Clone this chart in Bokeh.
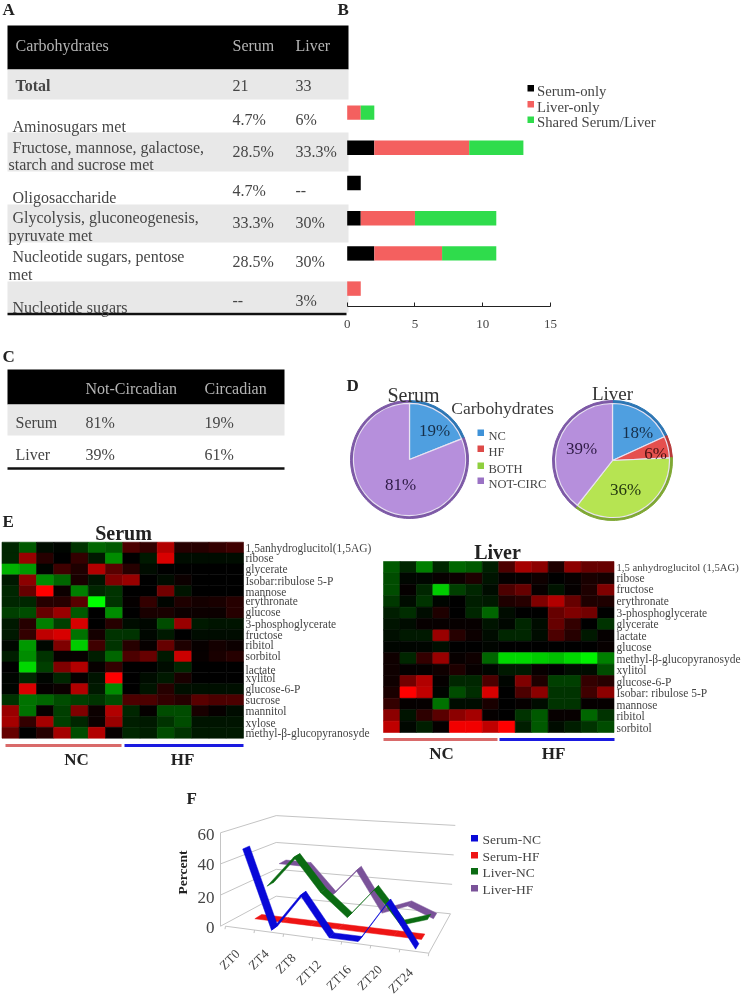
import numpy as np
from bokeh.plotting import figure
from bokeh.models import Range1d, ColumnDataSource, LinearColorMapper, LinearAxis, FixedTicker
from bokeh.transform import transform
from bokeh.core.properties import value
from bokeh.embed import file_html
from bokeh.resources import INLINE

# ---------------- data ----------------
bar_series = ["Serum-only", "Liver-only", "Shared Serum/Liver"]
serum_only = [0, 2, 1, 1, 2, 0]
liver_only = [1, 7, 0, 4, 5, 1]
shared = [1, 4, 0, 6, 4, 0]

pie_labels = ["NC", "HF", "BOTH", "NOT-CIRC"]
pie_serum = [19, 0, 0, 81]
pie_liver = [18, 6, 36, 39]

serum_metabolites = ["1,5anhydroglucitol(1,5AG)", "ribose", "glycerate", "Isobar:ribulose 5-P", "mannose",
                     "erythronate", "glucose", "3-phosphoglycerate", "fructose", "ribitol", "sorbitol", "lactate",
                     "xylitol", "glucose-6-P", "sucrose", "mannitol", "xylose", "methyl-β-glucopyranosyde"]
serum_heat = [
    [-.15, -.35, -.05, -.02, -.2, -.4, -.35, .3, .2, .7, .15, .15, .2, .25],
    [-.15, .6, .15, 0, .2, -.1, -.55, 0, -.1, .85, -.05, -.05, -.05, -.05],
    [-.7, -.6, -.02, .25, .12, .7, .35, .15, -.05, 0, 0, 0, 0, 0],
    [-.1, .55, -.55, -.4, .1, -.08, .5, .6, 0, -.05, .05, 0, 0, 0],
    [-.15, .4, 1, .05, -.5, -.15, -.2, 0, 0, .45, -.08, 0, 0, 0],
    [-.15, -.15, .15, .15, .35, -1, -.2, .02, .2, -.02, .12, .08, .1, .15],
    [-.25, -.3, .4, .6, -.35, 0, -.55, 0, .1, .1, .05, .05, .05, .15],
    [-.1, .15, -.5, -.25, .85, 0, .15, -.05, -.03, -.3, .6, -.1, -.08, -.08],
    [-.1, .2, .75, .85, -.45, .08, -.2, -.2, -.03, -.1, 0, -.05, -.05, -.05],
    [-.03, -.6, -.03, .5, -.8, .25, -.2, .15, .03, .4, .12, .03, .08, .05],
    [-.12, -.55, -.2, .03, .03, -.12, -.4, .3, .4, -.1, .8, .03, .1, .15],
    [0, -.85, -.25, .5, .7, .03, .2, 0, 0, -.05, -.15, 0, 0, 0],
    [-.02, -.15, -.02, -.15, .03, -.08, 1, 0, -.05, -.1, .1, 0, 0, 0],
    [-.02, .85, .02, .05, .7, -.1, -.55, 0, -.08, .15, -.06, -.06, -.06, -.06],
    [-.2, -.45, -.4, -.3, -.25, -.2, -.3, .3, .3, .2, .15, .35, .3, .3],
    [.6, -.45, .03, -.25, .5, .05, .7, -.15, .02, -.3, -.3, .1, .03, -.05],
    [.65, .2, .65, -.25, -.15, .05, .6, -.12, -.1, -.2, -.3, -.08, -.08, -.08],
    [.4, 0, .15, .65, -.3, .7, .03, -.15, -.12, -.3, -.2, -.1, -.1, -.1],
]
liver_metabolites = ["1,5 anhydroglucitol (1,5AG)", "ribose", "fructose", "erythronate", "3-phosphoglycerate",
                     "glycerate", "lactate", "glucose", "methyl-β-glucopyranosyde", "xylitol", "glucose-6-P",
                     "Isobar: ribulose 5-P", "mannose", "ribitol", "sorbitol"]
liver_heat = [
    [-.35, -.15, -.5, -.15, -.4, -.35, -.12, .3, .65, .55, .12, .55, .4, .4],
    [-.3, -.03, -.03, .03, .05, .12, -.08, .02, .02, .06, 0, .03, .1, .08],
    [-.3, .02, -.15, -.8, -.25, -.15, -.05, .3, .4, .03, -.08, .02, .12, .5],
    [-.22, -.05, -.2, -.02, 0, -.12, -.1, .12, .15, .5, .7, .4, .12, .12],
    [-.12, -.18, -.05, .12, 0, -.15, -.4, -.05, 0, 0, .4, .5, .45, 0],
    [-.08, -.05, .03, .03, .03, .03, -.08, -.03, -.15, -.05, .4, .2, 0, -.2],
    [-.06, -.1, -.1, .6, .15, .05, -.05, -.15, -.15, -.05, .3, .15, -.1, .02],
    [-.02, -.02, -.02, -.06, 0, 0, -.02, 0, 0, 0, 0, 0, 0, .03],
    [.06, -.15, .2, .6, .03, .06, -.4, -.85, -.85, -.8, -.75, -.85, -.95, -.5],
    [.06, .02, .02, .06, .12, .03, -.02, -.1, -.1, .03, 0, -.05, -.05, -.3],
    [.06, .45, .7, .02, -.15, -.15, .3, -.02, .5, .12, -.25, -.25, .2, .15],
    [.1, 1, .75, -.02, -.3, -.18, .85, 0, .3, .55, -.2, -.2, .25, .55],
    [.2, .02, .02, -.45, -.05, -.05, .1, 0, .02, -.05, -.2, -.2, .02, .02],
    [.55, -.08, .18, .35, .55, .65, .02, 0, -.2, -.35, .03, .03, -.4, -.2],
    [.75, -.03, -.12, .02, .95, .95, .75, 1, -.12, -.35, -.05, -.12, -.2, -.3],
]

zt_labels = ["ZT0", "ZT4", "ZT8", "ZT12", "ZT16", "ZT20", "ZT24"]
serum_nc = [50, 0, 25, 0, 0, 27, 0]
serum_hf = [0, 0, 0, 0, 0, 0, 0]
liver_nc = [17, 39, 17, 2, 23, 1, 7]
liver_hf = [28, 28, 9, 29, 1, 8, 1]

# ---------------- styling ----------------
FONT = value("Liberation Serif")
INK = "#454545"
RED_BAR, GREEN_BAR = "#f4605f", "#2fdc4c"
W, H = 745, 999

c = figure(output_backend="svg", toolbar_location=None, width=W, height=H, min_border=0,
           x_range=Range1d(0, W), y_range=Range1d(H, 0), outline_line_color=None,
           styles={"filter": "blur(0.75px)"})
c.axis.visible = False
c.grid.visible = False


def panel(name, d0, d1, px0, px1, py0, py1, e0, e1):
    """Add ranges so that data d0..d1 falls on page x px0..px1 and e0..e1 on page y py0..py1."""
    sx = (px1 - px0) / (d1 - d0)
    sy = (py1 - py0) / (e1 - e0)
    c.extra_x_ranges[name] = Range1d(d0 - px0 / sx, d0 + (W - px0) / sx)
    c.extra_y_ranges[name] = Range1d(e0 + (H - py0) / sy, e0 - py0 / sy)
    return dict(x_range_name=name, y_range_name=name)


def t(x, y, s, size=16, color=INK, bold=False, align="left", angle=0):
    c.text([x], [y], text=[s], text_font=FONT, text_font_size=f"{size}px", text_color=color,
           text_font_style="bold" if bold else "normal", text_align=align, text_baseline="middle", angle=angle)


def box(l, r, top, bot, color):
    c.quad(left=[l], right=[r], top=[top], bottom=[bot], fill_color=color, line_color=None)


# ---------------- table A ----------------
for s, x, y in [("A", 2, 9), ("B", 337, 9), ("C", 2, 356), ("D", 346, 385), ("E", 2, 521), ("F", 186, 798)]:
    t(x, y, s, 17, "#222222", True)

GREY = "#e8e8e8"
box(7, 348, 25, 69, "#000000")
for a, b in [(69, 99), (132, 171), (204, 242), (281, 312)]:
    box(7, 348, a, b, GREY)
c.line([7, 346], [313.5, 313.5], line_color="#111111", line_width=2.5)
HEAD = "#b4b4b4"
t(15, 45, "Carbohydrates", 16, HEAD)
t(232, 45, "Serum", 16, HEAD)
t(295, 45, "Liver", 16, HEAD)
table_a = [(15, 85, "Total", 232, 295, 85, "21", "33"),
           (12, 126, "Aminosugars met", 232, 295, 119, "4.7%", "6%"),
           (12, 197, "Oligosaccharide", 232, 295, 190, "4.7%", "--"),
           (12, 307, "Nucleotide sugars", 232, 295, 300, "--", "3%")]
for x, y, s, x1, x2, y2, v1, v2 in table_a:
    t(x, y, s, 16, INK, s == "Total")
    t(x1, y2, v1)
    t(x2, y2, v2)
for (a, b), (ya, yb), v1, v2, yv in [
    (("Fructose, mannose, galactose,", "starch and sucrose met"), (147, 164), "28.5%", "33.3%", 151),
    (("Glycolysis, gluconeogenesis,", "pyruvate met"), (217, 235), "33.3%", "30%", 222),
    (("Nucleotide sugars, pentose", "met"), (256, 274), "28.5%", "30%", 261),
]:
    t(12, ya, a)
    t(8, yb, b)
    t(232, yv, v1)
    t(295, yv, v2)

# ---------------- B: stacked bars ----------------
kw = panel("bars", 0, 15, 346.7, 550, 94.5, 305.7, -0.5, 5.5)
src = ColumnDataSource(dict(y=list(range(6)), s=serum_only, l=liver_only, b=shared))
c.hbar_stack(["s", "l", "b"], y="y", height=0.41, fill_color=["#000000", RED_BAR, GREEN_BAR], line_color=None,
             source=src, **kw)
ax = LinearAxis(x_range_name="bars", fixed_location=305.7, ticker=FixedTicker(ticks=[0, 5, 10, 15]), bounds=(0, 15))
ax.major_tick_in = 4
ax.major_tick_out = 0
ax.minor_tick_line_color = None
ax.axis_line_color = "#222222"
ax.major_tick_line_color = "#222222"
ax.major_label_standoff = 14
ax.major_label_text_font = "Liberation Serif"
ax.major_label_text_font_size = "13px"
ax.major_label_text_color = INK
c.add_layout(ax, "below")

for s, y, col in zip(bar_series, [88, 104, 119.5], ["#000000", RED_BAR, GREEN_BAR]):
    box(527, 533.5, y - 3.5, y + 3, col)
    t(536.5, y + 2, s, 14.7)

# ---------------- C: table ----------------
box(7, 284, 369, 404, "#000000")
box(7, 284, 404, 435, GREY)
c.line([7, 284], [468, 468], line_color="#111111", line_width=2.5)
t(85, 388, "Not-Circadian", 16, HEAD)
t(204, 388, "Circadian", 16, HEAD)
for s, y, a, b in [("Serum", 422, "81%", "19%"), ("Liver", 454, "39%", "61%")]:
    t(15, y, s)
    t(85, y, a)
    t(204, y, b)


# ---------------- D: pies ----------------
def pie(name, vals, r, cx, cy):
    vals = np.array(vals, float)
    frac = np.cumsum(vals) / vals.sum()
    ends = np.pi / 2 - 2 * np.pi * frac
    starts = np.r_[np.pi / 2, ends[:-1]]
    kw = panel(name, -1, 1, cx - r, cx + r, cy + r, cy - r, -1, 1)
    keep = vals > 0
    dark = np.array(["#2c76b4", "#b83a3a", "#7fa834", "#7d59a6"])[keep]
    body = np.array(["#4f9fe0", "#e5504e", "#b6e452", "#b68fdc"])[keep]
    s = dict(a=starts[keep], b=ends[keep], d=dark, e=body)
    c.wedge(0, 0, radius=1, start_angle="a", end_angle="b", direction="clock", fill_color="d", line_color="d",
            source=s, **kw)
    c.wedge(0, 0, radius=0.95, start_angle="a", end_angle="b", direction="clock", fill_color="e",
            line_color="#e9e3f2", line_width=1.2, source=s, **kw)


pie("pie_s", pie_serum, 59, 409, 459)
pie("pie_l", pie_liver, 60, 612, 460)

t(413, 394, "Serum", 20, "#333333", align="center")
t(612, 393, "Liver", 19, "#333333", align="center")
t(502, 407, "Carbohydrates", 17.6, "#3c3c3c", align="center")
DK = "#17304a"
t(434, 430, "19%", 17, DK, align="center")
t(400, 484, "81%", 17, "#2e1a45", align="center")
t(637, 432, "18%", 17, DK, align="center")
t(655, 453, "6%", 17, "#4a1212", align="center")
t(625, 489, "36%", 17, "#24380f", align="center")
t(581, 448, "39%", 17, "#2e1a45", align="center")
for s, y, col in zip(pie_labels, [432, 448, 465, 480], ["#3f92d8", "#dd4a48", "#8fcf3f", "#9a72c4"]):
    box(477, 483.5, y - 3, y + 3.5, col)
    t(488, y + 3, s, 12.5)

# ---------------- E: heatmaps ----------------
ramp = [f"#{max(0, i):02x}{max(0, -i):02x}00" for i in np.linspace(-255, 255, 201).astype(int)]
mapper = LinearColorMapper(palette=ramp, low=-1, high=1)


def heat(name, matrix, x0, x1, y0, y1):
    m = np.array(matrix)
    rows, cols = m.shape
    yy, xx = np.mgrid[0:rows, 0:cols]
    kw = panel(name, 0, cols, x0, x1, y0, y1, 0, rows)
    s = ColumnDataSource(dict(x=xx.ravel() + .5, y=yy.ravel() + .5, v=m.ravel()))
    c.rect("x", "y", 1, 1, source=s, fill_color=transform("v", mapper), line_color=transform("v", mapper),
           line_width=0.6, **kw)


heat("heat_s", serum_heat, 1.5, 243, 541.7, 737.7)
heat("heat_l", liver_heat, 383, 613.5, 561, 732)

t(123, 532, "Serum", 20, "#222222", True, "center")
t(497, 551, "Liver", 20, "#222222", True, "center")
serum_y = [547, 557, 568, 580, 591, 600, 611, 623, 634, 644, 655, 669, 677, 688, 699, 710, 722, 732]
liver_y = [566, 577, 588, 600, 612, 623, 635, 646, 658, 669, 681, 692, 704, 715, 727]
for s, y in zip(serum_metabolites, serum_y):
    t(245, y, s, 11.5)
for s, y in zip(liver_metabolites, liver_y):
    t(616, y, s, 10.7 if s.startswith("1,5") else 11.5)
for y, a, b, m, e, xn, xh, ylab in [(745, 5, 121, 124, 243, 76, 182, 759), (739, 383, 497, 499, 614, 441, 553, 753)]:
    c.line([a, b], [y, y], line_color="#d96a6a", line_width=3)
    c.line([m, e], [y, y], line_color="#1a1ae0", line_width=3)
    t(xn, ylab, "NC", 17, "#222222", True, "center")
    t(xh, ylab, "HF", 17, "#222222", True, "center")

# ---------------- F: 3-D line chart, projected onto the page ----------------
FL, FR, BL, BR = map(np.array, [(225, 925.7), (428.3, 952.7), (275.7, 895.7), (450, 913.3)])


def project(u, v, val):
    front = FL + (FR - FL) * u
    back = BL + (BR - BL) * u
    p = front + (back - front) * v
    return p[0], p[1] - val * (1.557 - 0.17 * v)


WALL = "#c4c4c4"
for lev in [0, 20, 40, 60]:
    c.line([220, BL[0], BR[0] + lev * .08], [FL[1] - lev * 1.557, BL[1] - lev * 1.343, BR[1] - lev * 1.473],
           line_color=WALL, line_width=1)
c.line([220, 220], [FL[1], FL[1] - 60 * 1.557], line_color=WALL, line_width=1)
c.line([FL[0], FR[0], BR[0]], [FL[1], FR[1], BR[1]], line_color=WALL, line_width=1)
for i in range(8):
    x, y = project(i / 7, 0, 0)
    c.line([x, x - .5], [y, y + 3], line_color=WALL, line_width=1)

series_f = [(liver_hf, .875, "#7a5299"), (liver_nc, .625, "#0b6b12"), (serum_hf, .375, "#ee1414"),
            (serum_nc, .125, "#0808d8")]
D = 0.07
for vals, v, col in series_f:
    xs, ys = [], []
    for i in range(len(vals) - 1):
        u0, u1 = (i + .5) / 7, (i + 1.5) / 7
        q = [project(u0, v - D, vals[i]), project(u0, v + D, vals[i]),
             project(u1, v + D, vals[i + 1]), project(u1, v - D, vals[i + 1])]
        xs.append([a for a, _ in q])
        ys.append([b for _, b in q])
    c.patches(xs, ys, fill_color=col, line_color=col, line_width=0.5)

for s, y in zip(["60", "40", "20", "0"], [834, 864, 897, 927]):
    t(214, y, s, 17, align="right")
t(182, 872, "Percent", 13.5, "#222222", True, "center", np.pi / 2)
for s, x, y in zip(zt_labels, [229, 258, 285, 308, 338, 369, 400], [959, 959, 963, 972, 977, 977, 980]):
    t(x, y, s, 13, align="center", angle=np.pi / 4)
for s, y, col in zip(["Serum-NC", "Serum-HF", "Liver-NC", "Liver-HF"], [838, 855, 871, 888],
                     ["#0808d8", "#ee1414", "#0b6b12", "#7a5299"]):
    box(470.5, 477.5, y - 3.5, y + 3, col)
    t(482, y + 1, s, 13.5)

open("out.html", "w").write(file_html(c, INLINE))
